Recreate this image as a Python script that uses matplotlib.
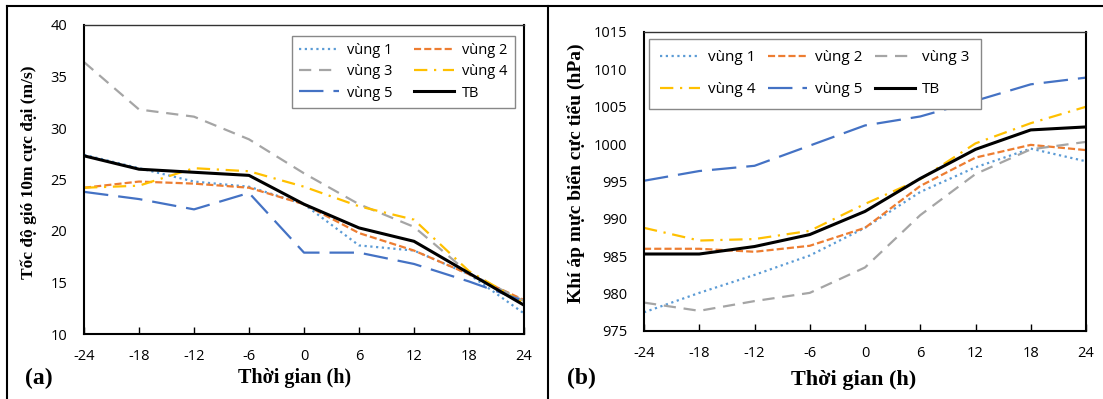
import matplotlib.pyplot as plt
from matplotlib.lines import Line2D

# thời gian (h)
hours = [-24, -18, -12, -6, 0, 6, 12, 18, 24]

# (a) tốc độ gió 10m cực đại (m/s)
wind_v1 = [27.4, 26.1, 24.8, 24.3, 22.6, 18.6, 18.1, 15.8, 12.0]
wind_v2 = [24.2, 24.8, 24.6, 24.2, 22.6, 19.8, 18.1, 15.8, 13.3]
wind_v3 = [36.4, 31.8, 31.1, 28.9, 25.6, 22.6, 20.4, 15.9, 13.2]
wind_v4 = [24.2, 24.4, 26.1, 25.8, 24.3, 22.4, 21.1, 16.1, 13.0]
wind_v5 = [23.8, 23.1, 22.1, 23.7, 17.9, 17.9, 16.8, 15.1, 13.2]
wind_tb = [27.3, 26.0, 25.7, 25.4, 22.6, 20.3, 19.0, 15.9, 12.8]

# (b) khí áp mực biển cực tiểu (hPa)
pres_v1 = [977.5, 980.1, 982.5, 985.1, 988.8, 993.6, 996.9, 999.4, 997.7]
pres_v2 = [986.0, 986.0, 985.6, 986.4, 988.8, 994.4, 998.2, 999.9, 999.2]
pres_v3 = [978.8, 977.7, 979.0, 980.1, 983.5, 990.5, 996.0, 999.3, 1000.3]
pres_v4 = [988.8, 987.1, 987.3, 988.4, 992.0, 995.3, 1000.1, 1002.8, 1005.0]
pres_v5 = [995.1, 996.4, 997.1, 999.8, 1002.5, 1003.7, 1005.8, 1008.0, 1008.9]
pres_tb = [985.3, 985.3, 986.3, 987.9, 991.0, 995.4, 999.3, 1001.9, 1002.3]

names = ['vùng 1', 'vùng 2', 'vùng 3', 'vùng 4', 'vùng 5', 'TB']
styles = [
    dict(color='#5B9BD5', lw=1.6, dashes=(1, 1.6)),
    dict(color='#ED7D31', lw=1.6, dashes=(3.2, 1.4)),
    dict(color='#A5A5A5', lw=1.6, dashes=(5.5, 3.5)),
    dict(color='#FFC000', lw=1.6, dashes=(6, 3, 1, 3)),
    dict(color='#4472C4', lw=1.6, dashes=(11, 4.5)),
    dict(color='black', lw=2.2),
]

W, H = 1103, 399
fig = plt.figure(figsize=(W / 100, H / 100), dpi=100)
sans = 'Open Sans'
serif = 'Liberation Serif'


def make_axes(l, t, r, b):
    return fig.add_axes([l / W, 1 - b / H, (r - l) / W, (b - t) / H])


def style_axes(ax, ymin, ymax):
    ax.set_xlim(-24, 24)
    ax.set_ylim(ymin, ymax)
    ax.set_xticks(hours)
    ax.set_xticklabels([str(h) for h in hours], fontfamily=sans, fontsize=10.5)
    yt = list(range(ymin, ymax + 1, 5))
    ax.set_yticks(yt)
    ax.set_yticklabels([str(v) for v in yt], fontfamily=sans, fontsize=10.5)
    ax.tick_params(axis='x', direction='in', length=5, width=1, pad=11)
    ax.tick_params(axis='y', length=0, pad=12)
    for s in ax.spines.values():
        s.set_linewidth(1.5)
        s.set_color('black')
    ax.spines['top'].set_linewidth(1)
    ax.spines['top'].set_color('#333333')


# ---- (a)
axa = make_axes(84, 25, 524, 334)
for y, n, st in zip([wind_v1, wind_v2, wind_v3, wind_v4, wind_v5, wind_tb], names, styles):
    axa.plot(hours, y, label=n, **st)
style_axes(axa, 10, 40)

h, l = axa.get_legend_handles_labels()
order = [0, 2, 4, 1, 3, 5]
axa.legend([h[i] for i in order], [l[i] for i in order], ncol=2,
           loc='upper left', bbox_to_anchor=(292 / W, 1 - 36 / H, 223 / W, 0),
           bbox_transform=fig.transFigure, mode='expand', borderaxespad=0,
           prop={'family': sans, 'size': 10.5}, fancybox=False, edgecolor='#888888',
           framealpha=1, handlelength=2.7, handletextpad=0.6, labelspacing=0.42,
           borderpad=0.5, columnspacing=1.5)

fig.text(29 / W, 1 - 172 / H, 'Tốc độ gió 10m cực đại (m/s)', rotation=90,
         ha='center', va='center', fontfamily=serif, fontweight='bold', fontsize=12.5)
fig.text(295 / W, 1 - 378 / H, 'Thời gian (h)', ha='center', va='center',
         fontfamily=serif, fontweight='bold', fontsize=14.5)
fig.text(25 / W, 1 - 378 / H, '(a)', ha='left', va='center',
         fontfamily=serif, fontweight='bold', fontsize=17)

# ---- (b)
axb = make_axes(644, 32, 1086, 331)
for y, n, st in zip([pres_v1, pres_v2, pres_v3, pres_v4, pres_v5, pres_tb], names, styles):
    axb.plot(hours, y, label=n, **st)
style_axes(axb, 975, 1015)

h, l = axb.get_legend_handles_labels()
order = [0, 3, 1, 4, 2, 5]
axb.legend([h[i] for i in order], [l[i] for i in order], ncol=3,
           loc='upper left', bbox_to_anchor=(649 / W, 1 - 39 / H, 332 / W, 0),
           bbox_transform=fig.transFigure, mode='expand', borderaxespad=0,
           prop={'family': sans, 'size': 11}, fancybox=False, edgecolor='#888888',
           framealpha=1, handlelength=2.6, handletextpad=0.5, labelspacing=1.1,
           borderpad=0.75, columnspacing=0.8)

fig.text(577 / W, 1 - 173 / H, 'Khí áp mực biển cực tiểu (hPa)', rotation=90,
         ha='center', va='center', fontfamily=serif, fontweight='bold', fontsize=14)
fig.text(854 / W, 1 - 380 / H, 'Thời gian (h)', ha='center', va='center',
         fontfamily=serif, fontweight='bold', fontsize=16)
fig.text(567 / W, 1 - 378 / H, '(b)', ha='left', va='center',
         fontfamily=serif, fontweight='bold', fontsize=17)

# khung viền các panel
border = dict(color='black', lw=1.5, transform=fig.transFigure)
fig.add_artist(Line2D([7 / W, 1], [1 - 6 / H, 1 - 6 / H], **border))
fig.add_artist(Line2D([7 / W, 7 / W], [0, 1 - 6 / H], **border))
fig.add_artist(Line2D([548 / W, 548 / W], [0, 1 - 6 / H], **border))

fig.savefig('out.png', dpi=100)
